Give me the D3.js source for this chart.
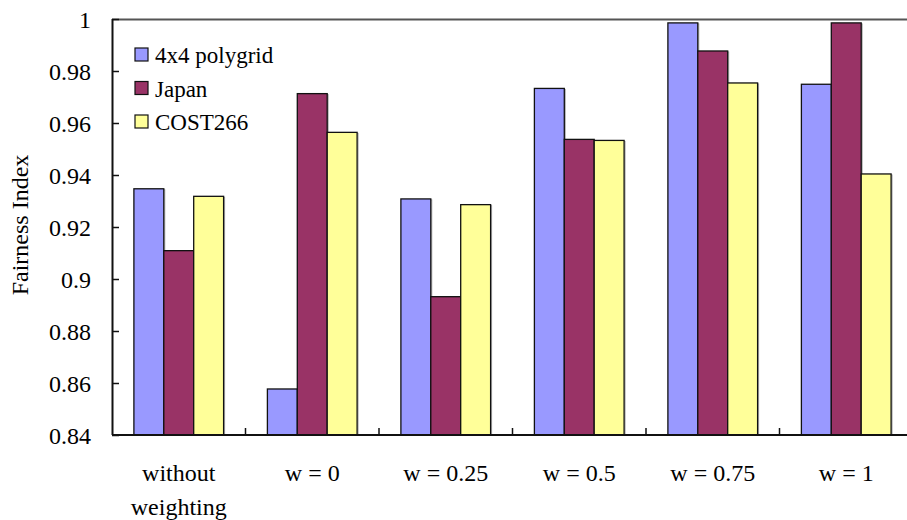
<!DOCTYPE html>
<html>
<head>
<meta charset="utf-8">
<script src="https://cdn.jsdelivr.net/npm/d3@7"></script>
<style>
  html, body { margin: 0; padding: 0; background: #fff; }
  svg { display: block; }
  svg text { font-family: 'Liberation Serif', 'Times New Roman', serif !important; fill: #000; }
</style>
</head>
<body>
<svg id="chart" width="907" height="520"></svg>
<script>
// Fairness index per weighting setting, for three network topologies
const categories = ["without weighting", "w = 0", "w = 0.25", "w = 0.5", "w = 0.75", "w = 1"];
const seriesNames = ["4x4 polygrid", "Japan", "COST266"];
const polygrid = [0.9347, 0.8577, 0.9308, 0.9733, 0.9985, 0.9749];
const japan    = [0.9109, 0.9713, 0.8932, 0.9537, 0.9877, 0.9985];
const cost266  = [0.9318, 0.9564, 0.9286, 0.9533, 0.9754, 0.9404];
const seriesColors = ["#9999FF", "#993366", "#FFFF99"];
const yTicks = [0.84, 0.86, 0.88, 0.9, 0.92, 0.94, 0.96, 0.98, 1];

const seriesValues = [polygrid, japan, cost266];
const rows = categories.map((c, i) => ({
  category: c,
  values: seriesNames.map((s, j) => ({ series: s, value: seriesValues[j][i] }))
}));

const svg = d3.select("#chart");
const plot = { left: 112, top: 19, right: 913, bottom: 435 };

const x = d3.scaleBand().domain(categories).range([plot.left, plot.right]).padding(0);
const groupWidth = x.bandwidth() * 0.672;
const xInner = d3.scaleBand().domain(seriesNames).range([0, groupWidth]).padding(0);
const y = d3.scaleLinear().domain([0.84, 1]).range([plot.bottom, plot.top]);

// plot-area frame (top and right edges)
svg.append("line")
  .attr("x1", plot.left).attr("x2", plot.right)
  .attr("y1", plot.top + 0.5).attr("y2", plot.top + 0.5)
  .attr("stroke", "#555").attr("stroke-width", 2);
svg.append("line")
  .attr("x1", plot.right).attr("x2", plot.right)
  .attr("y1", plot.top).attr("y2", plot.bottom)
  .attr("stroke", "#555").attr("stroke-width", 2);

// bars
const groups = svg.append("g").selectAll("g")
  .data(rows).join("g")
  .attr("transform", d => `translate(${x(d.category) + (x.bandwidth() - groupWidth) / 2},0)`);

groups.selectAll("rect.shadow")
  .data(d => d.values).join("rect")
  .attr("class", "shadow")
  .attr("x", d => xInner(d.series) + 1)
  .attr("y", d => y(d.value) + 1)
  .attr("width", xInner.bandwidth())
  .attr("height", d => plot.bottom - y(d.value) - 1)
  .attr("fill", "none")
  .attr("stroke", "#aaa")
  .attr("stroke-width", 1);

groups.selectAll("rect.bar")
  .data(d => d.values).join("rect")
  .attr("class", "bar")
  .attr("x", d => xInner(d.series))
  .attr("y", d => y(d.value))
  .attr("width", xInner.bandwidth())
  .attr("height", d => plot.bottom - y(d.value))
  .attr("fill", (d, i) => seriesColors[i])
  .attr("stroke", "#111")
  .attr("stroke-width", 1.3);

// y axis: ticks point into the plot
const yAxis = svg.append("g")
  .attr("transform", `translate(${plot.left},0)`)
  .call(d3.axisRight(y).tickValues(yTicks).tickSize(7).tickFormat(d3.format("")));
yAxis.attr("font-family", null).attr("font-size", null);
yAxis.select(".domain").attr("stroke", "#111").attr("stroke-width", 2).attr("d", `M0.5,${plot.top}V${plot.bottom}`);
yAxis.selectAll(".tick line").attr("stroke", "#111").attr("stroke-width", 1.5);
yAxis.selectAll(".tick text")
  .attr("x", -21).attr("text-anchor", "end").attr("dy", "0.35em")
  .style("font-size", "24px");

// x axis: ticks on category boundaries, pointing up
const boundaries = categories.slice(1).map(c => x(c));
const xAxisG = svg.append("g");
xAxisG.append("line")
  .attr("x1", plot.left).attr("x2", plot.right)
  .attr("y1", plot.bottom).attr("y2", plot.bottom)
  .attr("stroke", "#111").attr("stroke-width", 2);
xAxisG.selectAll("line.tick")
  .data(boundaries).join("line")
  .attr("class", "tick")
  .attr("x1", d => d).attr("x2", d => d)
  .attr("y1", plot.bottom).attr("y2", plot.bottom - 7)
  .attr("stroke", "#111").attr("stroke-width", 1.5);

// category labels (first one wraps onto two lines)
const labelLines = { "without weighting": ["without", "weighting"] };
xAxisG.selectAll("text.cat")
  .data(categories).join("text")
  .attr("class", "cat")
  .attr("x", d => x(d) + x.bandwidth() / 2)
  .attr("y", 481)
  .attr("text-anchor", "middle")
  .style("font-size", "24px")
  .each(function (d) {
    const lines = labelLines[d] || [d];
    d3.select(this).selectAll("tspan").data(lines).join("tspan")
      .attr("x", x(d) + x.bandwidth() / 2)
      .attr("dy", (l, i) => i === 0 ? 0 : 34)
      .text(l => l);
  });

// y axis title
svg.append("text")
  .attr("transform", "translate(28,225) rotate(-90)")
  .attr("text-anchor", "middle")
  .style("font-size", "24px")
  .text("Fairness Index");

// legend
const legend = svg.append("g").selectAll("g")
  .data(seriesNames).join("g")
  .attr("transform", (d, i) => `translate(135,${55 + i * 33.5})`);
legend.append("rect")
  .attr("x", 0).attr("y", -7).attr("width", 13).attr("height", 13)
  .attr("fill", (d, i) => seriesColors[i])
  .attr("stroke", "#111").attr("stroke-width", 1.2);
legend.append("text")
  .attr("x", 20).attr("y", 0).attr("dy", "0.35em")
  .style("font-size", "23px")
  .text(d => d);
</script>
</body>
</html>
